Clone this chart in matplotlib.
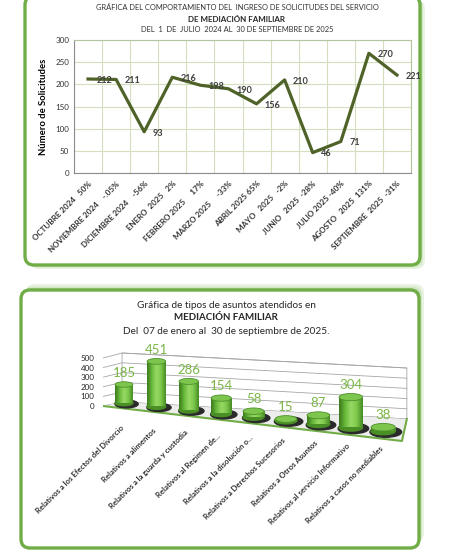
# Gráficas de Mediación Familiar

import numpy as np
import matplotlib
matplotlib.use('Agg')
import matplotlib.pyplot as plt
from matplotlib.patches import Ellipse, Rectangle, Polygon, FancyBboxPatch
from matplotlib.colors import LinearSegmentedColormap

plt.rcParams['font.family'] = ['Lato', 'DejaVu Sans']

# Datos - ingreso de solicitudes
meses = ['OCTUBRE 2024   50%', 'NOVIEMBRE 2024    -.05%', 'DICIEMBRE 2024    -56%',
         'ENERO  2025   2%', 'FEBRERO 2025     17%', 'MARZO 2025     -33%',
         'ABRIL 2025 65%', 'MAYO   2025   -2%', 'JUNIO   2025  -28%',
         'JULIO 2025 -40%', 'AGOSTO   2025  131%', 'SEPTIEMBRE  2025  -31%']
solicitudes = [212, 211, 93, 216, 198, 190, 156, 210, 46, 71, 270, 221]

# Datos - tipos de asuntos
tipos = ['Relativos a los Efectos del Divorcio', 'Relativos a alimentos',
         'Relativos a la guarda y custodia', 'Relativos al Regimen de...',
         'Relativos a la disolución o...', 'Relativos a Derechos Sucesorios',
         'Relativos a Otros Asuntos', 'Relativos al servicio Informativo',
         'Relativos a casos no mediables']
asuntos = [185, 451, 286, 154, 58, 15, 87, 304, 38]

verde = '#70AD47'
fig = plt.figure(figsize=(4.5, 5.5), dpi=100)

# fondo con los recuadros redondeados (coordenadas en pixeles)
bg = fig.add_axes([0, 0, 1, 1], zorder=0)
bg.set_xlim(0, 450)
bg.set_ylim(550, 0)
bg.axis('off')

def recuadro(x0, y0, x1, y1, dx, dy):
    for k, a in [(5, 0.25), (3, 0.35), (1.5, 0.45)]:
        bg.add_patch(FancyBboxPatch((x0 + dx * k / 5, y0 + dy * k / 5), x1 - x0, y1 - y0,
                                    boxstyle='round,pad=0,rounding_size=9',
                                    fc='#A9D18E', ec='none', alpha=a))
    bg.add_patch(FancyBboxPatch((x0, y0), x1 - x0, y1 - y0,
                                boxstyle='round,pad=0,rounding_size=9',
                                fc='white', ec=verde, lw=2.4))

recuadro(25, -4, 420, 265, 5, 4)
recuadro(21, 290, 419, 548, 5, -6)

# ---- Grafica 1: linea ----
ax1 = fig.add_axes([74 / 450, 1 - 173 / 550, 337 / 450, 133 / 550], zorder=2)
x = np.arange(len(solicitudes))
ax1.plot(x, solicitudes, color='#4F6228', lw=2.3, solid_joinstyle='round', zorder=3)
for i, v in enumerate(solicitudes):
    ax1.annotate(str(v), (i, v), xytext=(6, -1), textcoords='offset points',
                 ha='left', va='center', fontsize=6.6, fontweight='bold', color='#404040')
ax1.set_xlim(-0.5, 11.5)
ax1.set_ylim(0, 300)
ax1.set_yticks(np.arange(0, 301, 50))
ax1.set_xticks(x)
ax1.set_xticklabels(meses, rotation=45, ha='right', rotation_mode='anchor',
                    fontsize=5.4, fontweight='bold', color='#333333')
ax1.set_xticks(np.arange(-0.5, 12, 1), minor=True)
ax1.grid(which='minor', axis='x', color='#D3DFBF', lw=0.8)
ax1.grid(which='major', axis='y', color='#D3DFBF', lw=0.8)
ax1.set_axisbelow(True)
ax1.tick_params(axis='both', which='both', length=0, labelsize=5.8, colors='#333333')
ax1.tick_params(axis='x', pad=5)
for s in ax1.spines.values():
    s.set_color('#B5C4A0')
    s.set_linewidth(0.8)
ax1.spines['left'].set_color('#8C8C8C')
ax1.spines['bottom'].set_color('#8C8C8C')
ax1.set_ylabel('Número de Solicitudes', fontsize=6.8, fontweight='bold', labelpad=5)

fig.text(237 / 450, 1 - 8 / 550,
         'GRÁFICA DEL COMPORTAMIENTO DEL  INGRESO DE SOLICITUDES DEL SERVICIO',
         ha='center', va='center', fontsize=5.4, color='#333333')
fig.text(237 / 450, 1 - 19 / 550, 'DE MEDIACIÓN FAMILIAR', ha='center', va='center',
         fontsize=5.8, fontweight='bold', color='#262626')
fig.text(237 / 450, 1 - 30 / 550, 'DEL  1  DE  JULIO  2024 AL  30 DE SEPTIEMBRE DE 2025',
         ha='center', va='center', fontsize=5.4, color='#333333')

# ---- Grafica 2: cilindros en perspectiva ----
ax2 = fig.add_axes([103 / 450, 1 - 455 / 550, 317 / 450, 115 / 550], zorder=2)
ax2.patch.set_alpha(0)
n = len(asuntos)
xl, xb, xr = -0.648, -0.06, 8.73

# pared del fondo y pared izquierda
ax2.add_patch(Polygon([(xb, 30), (xb, 520), (xr, 370), (xr, -140)],
                      fc='white', ec='#A6A6A6', lw=0.6, zorder=1))
for g in range(0, 501, 100):
    ax2.plot([xl, xb, xr], [-10 + 0.96 * g, 30 + 0.98 * g, -140 + 1.02 * g],
             color='#A6A6A6', lw=0.6, zorder=1)
# piso
ax2.add_patch(Polygon([(xl, -10), (8.58, -360), (xr, -140), (xb, 30)],
                      fc='#EDEDED', ec='none', zorder=2))
ax2.plot([xl, 8.58, xr], [-10, -360, -140], color=verde, lw=1.5, zorder=2)

cmap = LinearSegmentedColormap.from_list('cil', ['#3B7A1C', '#67B83A', '#98D966',
                                                 '#7CC84A', '#468A24'])
grad = np.linspace(0, 1, 64).reshape(1, -1)
for i, v in enumerate(asuntos):
    w = 0.55 + 0.025 * i
    b = 20 - 35 * i
    eh = 100 * w
    ax2.add_patch(Ellipse((i + 0.08, b - 10), w * 1.3, eh * 1.4, color='#2A2A2A', zorder=3))
    ax2.add_patch(Ellipse((i, b), w, eh, color='#4A8E26', zorder=4))
    im = ax2.imshow(grad, extent=(i - w / 2, i + w / 2, b, b + v), aspect='auto',
                    cmap=cmap, zorder=4, interpolation='bicubic')
    im.set_clip_path(Rectangle((i - w / 2, b), w, v, transform=ax2.transData))
    ax2.add_patch(Ellipse((i, b + v), w, eh, fc='#7DC64E', ec='#4E8F2C', lw=0.6, zorder=5))
    ax2.text(i, b + v + eh / 2 + 25, str(v), ha='center', va='bottom', fontsize=9.5,
             color='#7AB648', zorder=6)
    ax2.text(i - 0.05, -215 - 26 * i, tipos[i], rotation=45, ha='right', va='center',
             rotation_mode='anchor', fontsize=5.6, fontweight='bold', color='#333333',
             zorder=6)

ax2.set_xlim(xl, 9.136)
ax2.set_ylim(-500, 650)
ax2.set_xticks([])
ax2.set_yticks(-10 + 0.96 * np.arange(0, 501, 100))
ax2.set_yticklabels([str(t) for t in range(0, 501, 100)])
ax2.tick_params(axis='y', length=0, pad=6, labelsize=5.8, colors='#262626')
for s in ax2.spines.values():
    s.set_visible(False)

fig.text(226 / 450, 1 - 305 / 550, 'Gráfica de tipos de asuntos atendidos en',
         ha='center', va='center', fontsize=7.2, color='#262626')
fig.text(226 / 450, 1 - 318 / 550, 'MEDIACIÓN FAMILIAR', ha='center', va='center',
         fontsize=7, fontweight='bold', color='#262626')
fig.text(226 / 450, 1 - 332 / 550, 'Del  07 de enero al  30 de septiembre de 2025.',
         ha='center', va='center', fontsize=7.2, color='#262626')

fig.savefig('out.png', dpi=100)
